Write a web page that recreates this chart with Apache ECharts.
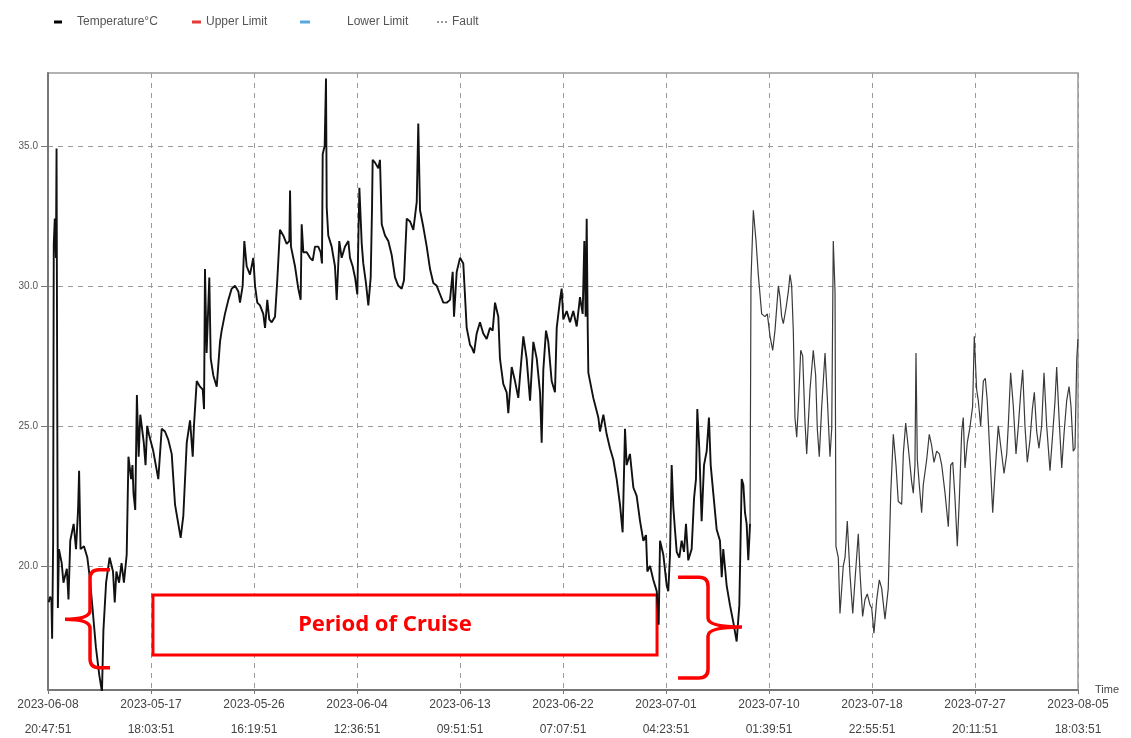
<!DOCTYPE html>
<html>
<head>
<meta charset="utf-8">
<title>Temperature</title>
<script src="https://cdn.jsdelivr.net/npm/echarts@6.0.0/dist/echarts.min.js"></script>
<style>
  html, body { margin: 0; padding: 0; background: #fff; }
  #main { width: 1131px; height: 738px; }
</style>
</head>
<body>
<div id="main"></div>
<script>
// x tick labels (10 equal steps of the logger's time axis)
var tickDates = ['2023-06-08', '2023-05-17', '2023-05-26', '2023-06-04', '2023-06-13', '2023-06-22',
  '2023-07-01', '2023-07-10', '2023-07-18', '2023-07-27', '2023-08-05'];
var tickTimes = ['20:47:51', '18:03:51', '16:19:51', '12:36:51', '09:51:51', '07:07:51',
  '04:23:51', '01:39:51', '22:55:51', '20:11:51', '18:03:51'];
var yTicks = [20, 25, 30, 35];

// [position on time axis (in tick steps), temperature °C]
var readings = [
  [0.007, 18.7], [0.02, 18.9], [0.033, 18.8], [0.04, 17.4], [0.05, 20.9], [0.056, 31.5], [0.066, 32.4],
  [0.077, 31.0], [0.083, 34.9], [0.09, 25.5], [0.096, 18.5], [0.106, 20.6], [0.133, 20.1], [0.15, 19.4],
  [0.183, 19.9], [0.199, 18.8], [0.216, 20.9], [0.249, 21.5], [0.272, 20.6], [0.292, 22.0], [0.302, 23.4],
  [0.316, 20.6], [0.349, 20.7], [0.382, 20.3], [0.405, 19.6], [0.432, 18.5], [0.465, 17.1], [0.498, 16.1],
  [0.524, 15.5], [0.538, 17.7], [0.564, 19.4], [0.598, 20.3], [0.631, 19.8], [0.648, 18.7], [0.664, 19.8],
  [0.69, 19.4], [0.714, 20.1], [0.737, 19.4], [0.764, 20.4], [0.781, 23.9], [0.807, 23.1], [0.82, 23.6],
  [0.83, 22.6], [0.847, 22.0], [0.863, 26.1], [0.88, 23.9], [0.896, 25.4], [0.93, 24.4], [0.947, 23.6],
  [0.963, 25.0], [0.98, 24.7],
  [0.99, 24.7], [1.022, 24.1], [1.071, 23.1], [1.104, 24.9], [1.136, 24.8], [1.168, 24.5], [1.201, 24.0],
  [1.233, 22.2], [1.265, 21.5], [1.288, 21.0], [1.314, 21.8], [1.347, 24.4], [1.379, 25.2], [1.405, 23.9],
  [1.417, 25.0], [1.444, 26.6], [1.476, 26.4], [1.502, 26.3], [1.515, 25.6], [1.524, 30.6], [1.54, 27.6],
  [1.566, 30.3], [1.58, 27.4], [1.605, 26.8], [1.638, 26.4], [1.67, 28.0], [1.686, 28.4], [1.718, 29.0],
  [1.751, 29.5], [1.783, 29.9], [1.816, 30.0], [1.848, 29.8], [1.864, 29.4], [1.89, 30.0], [1.906, 31.6],
  [1.929, 30.7], [1.961, 30.4], [1.993, 31.0], [2.01, 30.0], [2.032, 29.4], [2.058, 29.3], [2.09, 29.0],
  [2.107, 28.5], [2.129, 29.5], [2.148, 28.8], [2.172, 28.7], [2.204, 28.9], [2.226, 30.2], [2.252, 32.0],
  [2.284, 31.8], [2.317, 31.5], [2.343, 31.6], [2.35, 33.4], [2.359, 31.4], [2.398, 30.7], [2.43, 29.9],
  [2.453, 29.5], [2.463, 32.2], [2.479, 31.2], [2.512, 31.2], [2.544, 31.0], [2.57, 30.9], [2.592, 31.4],
  [2.624, 31.4], [2.647, 31.2], [2.66, 30.8], [2.667, 34.7], [2.686, 35.0], [2.699, 37.4], [2.706, 32.8],
  [2.721, 31.8], [2.754, 31.4], [2.786, 30.7], [2.803, 29.5], [2.828, 31.6], [2.851, 31.0], [2.883, 31.4],
  [2.916, 31.6], [2.932, 31.0], [2.958, 30.7], [2.981, 30.3], [3.003, 29.7], [3.023, 33.5], [3.046, 31.5],
  [3.061, 30.8], [3.087, 30.1], [3.11, 29.3], [3.133, 30.3], [3.146, 32.8], [3.152, 34.5], [3.175, 34.4],
  [3.207, 34.2], [3.223, 34.5], [3.24, 32.2], [3.272, 31.8], [3.304, 31.6], [3.337, 31.1], [3.369, 30.3],
  [3.401, 30.0], [3.434, 29.9], [3.456, 30.2], [3.483, 32.4], [3.515, 32.3], [3.547, 32.0], [3.58, 33.0],
  [3.595, 35.8], [3.612, 32.7], [3.644, 32.1], [3.677, 31.4], [3.709, 30.6], [3.741, 30.1], [3.774, 30.0],
  [3.806, 29.7], [3.838, 29.4], [3.871, 29.4], [3.903, 29.5], [3.929, 30.5], [3.942, 28.9], [3.968, 30.5],
  [4.0, 31.0], [4.032, 30.8], [4.065, 28.5], [4.097, 27.9],
  [4.114, 27.8], [4.136, 27.6], [4.162, 28.3], [4.194, 28.7], [4.226, 28.3], [4.259, 28.1], [4.291, 28.5],
  [4.317, 28.4], [4.34, 29.4], [4.372, 28.9], [4.388, 27.4], [4.42, 26.5], [4.453, 26.2], [4.469, 25.45],
  [4.502, 27.1], [4.534, 26.6], [4.566, 26.0], [4.583, 26.8], [4.615, 28.2], [4.647, 27.4], [4.68, 25.9],
  [4.712, 28.0], [4.745, 27.4], [4.777, 26.2], [4.793, 24.4], [4.809, 27.0], [4.835, 28.4], [4.857, 28.0],
  [4.89, 26.6], [4.922, 26.2], [4.939, 28.5], [4.971, 29.5], [4.987, 29.9], [5.003, 28.8], [5.036, 29.1],
  [5.068, 28.7], [5.1, 29.1], [5.133, 28.55], [5.165, 29.6], [5.191, 29.0], [5.207, 31.6], [5.22, 28.9],
  [5.23, 32.4], [5.24, 28.5], [5.246, 26.9],
  [5.262, 26.6], [5.294, 26.0], [5.343, 25.3], [5.359, 24.8], [5.392, 25.4], [5.424, 24.7], [5.456, 24.2],
  [5.488, 23.8], [5.521, 23.1], [5.553, 22.2], [5.579, 21.2], [5.602, 24.9], [5.618, 23.6], [5.65, 24.0],
  [5.683, 22.8], [5.715, 22.5], [5.748, 21.6], [5.78, 20.9], [5.806, 21.1], [5.819, 19.8], [5.845, 20.0],
  [5.877, 19.5], [5.91, 19.1], [5.929, 17.9], [5.942, 20.9], [5.974, 20.4], [6.007, 19.3], [6.022, 19.1],
  [6.039, 20.4], [6.055, 23.6], [6.071, 22.1], [6.087, 21.3], [6.104, 20.5], [6.129, 20.3], [6.152, 20.9],
  [6.175, 20.5], [6.194, 21.5], [6.216, 20.2], [6.249, 20.6], [6.272, 22.4], [6.291, 23.1], [6.304, 25.6],
  [6.323, 24.2], [6.346, 21.6], [6.369, 23.6], [6.395, 24.1], [6.417, 25.3], [6.434, 23.6], [6.459, 22.6],
  [6.492, 21.3], [6.524, 20.9], [6.541, 19.6], [6.556, 20.6], [6.589, 19.3], [6.621, 18.6], [6.653, 18.0],
  [6.686, 17.3], [6.712, 18.6],
  [6.735, 23.1], [6.751, 22.9], [6.767, 21.9], [6.783, 21.5], [6.799, 20.2], [6.816, 21.5], [6.825, 30.2],
  [6.848, 32.7], [6.874, 31.6], [6.896, 30.4], [6.929, 29.0], [6.961, 28.9], [6.984, 29.0], [7.01, 28.2],
  [7.036, 27.7], [7.058, 28.4], [7.091, 30.0], [7.107, 29.6], [7.123, 28.9], [7.139, 28.65], [7.165, 29.2],
  [7.188, 29.8], [7.204, 30.4], [7.22, 30.0], [7.236, 28.4], [7.252, 25.3], [7.269, 24.6], [7.285, 25.7],
  [7.308, 27.7], [7.327, 27.5], [7.35, 25.1], [7.366, 24.0], [7.398, 26.3], [7.43, 27.7], [7.453, 26.8],
  [7.469, 24.9], [7.488, 23.9], [7.512, 25.7], [7.544, 27.6], [7.566, 26.0], [7.592, 23.9], [7.609, 24.9],
  [7.624, 31.6], [7.641, 29.8], [7.65, 20.7], [7.673, 20.3], [7.689, 18.3], [7.721, 20.0], [7.738, 20.3],
  [7.76, 21.6], [7.786, 19.7], [7.813, 18.3], [7.835, 19.5], [7.867, 21.15], [7.883, 19.8], [7.909, 18.2],
  [7.932, 18.8], [7.954, 19.0], [7.981, 18.6], [7.997, 18.5], [8.019, 17.6], [8.046, 18.8], [8.071, 19.5],
  [8.094, 19.2], [8.126, 18.1], [8.158, 19.2], [8.182, 22.6], [8.207, 24.7], [8.233, 23.6], [8.255, 22.3],
  [8.288, 22.2], [8.304, 24.0], [8.327, 25.1], [8.353, 24.2], [8.385, 23.0], [8.401, 22.6],
  [8.417, 23.6], [8.427, 27.6], [8.44, 23.8], [8.459, 22.9], [8.482, 21.9], [8.498, 22.9], [8.531, 23.8],
  [8.556, 24.7], [8.579, 24.3], [8.602, 23.7], [8.628, 24.1], [8.654, 24.0], [8.677, 23.6], [8.709, 22.6],
  [8.741, 21.4], [8.764, 23.6], [8.784, 23.7], [8.806, 22.4], [8.828, 20.7], [8.848, 22.4], [8.871, 24.8],
  [8.886, 25.3], [8.903, 23.5], [8.925, 24.4], [8.951, 24.95], [8.977, 25.7], [8.993, 28.2], [9.016, 26.3],
  [9.032, 25.9], [9.055, 25.0], [9.081, 26.6], [9.1, 26.7], [9.119, 25.9], [9.146, 23.9], [9.172, 21.9],
  [9.194, 23.3], [9.226, 25.0], [9.249, 24.3], [9.282, 23.3], [9.308, 24.0], [9.323, 25.0], [9.346, 26.9],
  [9.372, 25.7], [9.398, 24.0], [9.421, 25.0], [9.444, 26.2], [9.463, 27.0], [9.485, 25.0], [9.508, 23.7],
  [9.534, 24.5], [9.557, 25.6], [9.576, 26.2], [9.599, 24.8], [9.621, 24.2], [9.647, 25.0], [9.67, 26.9],
  [9.696, 25.0], [9.728, 23.4], [9.754, 24.7], [9.777, 25.9], [9.793, 27.1], [9.816, 25.3], [9.842, 23.5],
  [9.864, 24.7], [9.89, 25.9], [9.913, 26.4], [9.932, 25.7], [9.954, 24.1], [9.971, 24.2], [9.988, 27.4],
  [10.0, 28.1]
];

// annotations (in axis units)
var cruiseBox = [1.019, 18.96, 5.913, 16.82];
var braces = [
  { end: 0.602, spine: 0.408, tip: 0.165, top: 19.86, mid: 18.1, bottom: 16.36 },
  { end: 6.117, spine: 6.408, tip: 6.738, top: 19.6, mid: 17.82, bottom: 16.0 }
];

// later part of the trace is drawn thinner, like the logger software does
var splitPos = 6.816;
var partA = [], partB = [];
for (var i = 0; i < readings.length; i++) {
  if (readings[i][0] <= splitPos) partA.push(readings[i]);
  if (readings[i][0] >= splitPos) partB.push(readings[i]);
}

var font = 'Liberation Sans';
var legendText = { color: '#555', fontSize: 12, fontFamily: font };

var chart = echarts.init(document.getElementById('main'));
chart.setOption({
  animation: false,
  backgroundColor: '#fff',
  legend: [
    { left: 49, top: 11, icon: 'rect', itemWidth: 8, itemHeight: 3, data: ['Temperature°C'],
      textStyle: Object.assign({ padding: [0, 0, 0, 10] }, legendText) },
    { left: 187, top: 11, icon: 'rect', itemWidth: 9, itemHeight: 3, data: ['Upper Limit'],
      textStyle: legendText },
    { left: 295, top: 11, icon: 'rect', itemWidth: 10, itemHeight: 3, data: ['Lower Limit'],
      textStyle: Object.assign({ padding: [0, 0, 0, 32] }, legendText) },
    { left: 432, top: 11, icon: 'path://M0,0h2v2h-2zM4,0h2v2h-2zM8,0h2v2h-2z', itemWidth: 10, itemHeight: 2,
      data: ['Fault'], textStyle: legendText }
  ],
  grid: {
    left: 48, right: 53, top: 73, bottom: 48, outerBoundsMode: 'none', containLabel: false,
    show: true, borderColor: '#999', borderWidth: 1.5
  },
  xAxis: {
    type: 'value', min: 0, max: 10, interval: 1,
    name: 'Time', nameLocation: 'end', nameGap: 17, nameMoveOverlap: false,
    nameTextStyle: { color: '#444', fontSize: 11, fontFamily: font, padding: [0, 0, 14, 0] },
    axisLine: { lineStyle: { color: '#777', width: 2 } },
    axisTick: { show: true, length: 4, lineStyle: { color: '#777' } },
    axisLabel: {
      color: '#444', fontSize: 12, fontFamily: font, lineHeight: 25, margin: 2,
      formatter: function (v) {
        var k = Math.round(v);
        return tickDates[k] + '\n' + tickTimes[k];
      }
    },
    splitLine: { show: true, lineStyle: { color: '#9a9a9a', type: [5, 5] } }
  },
  yAxis: {
    type: 'value', min: 15.57, max: 37.6,
    axisLine: { show: true, lineStyle: { color: '#777', width: 2 } },
    axisTick: { show: true, length: 7, customValues: yTicks, lineStyle: { color: '#777' } },
    axisLabel: {
      customValues: yTicks, color: '#555', fontSize: 10, fontFamily: font, margin: 10,
      formatter: function (v) { return v.toFixed(1); }
    },
    splitLine: { show: true, lineStyle: { color: '#9a9a9a', type: [5, 5] } }
  },
  series: [
    {
      name: 'Temperature°C', type: 'line', data: partA, color: '#000',
      showSymbol: false, symbol: 'none', lineStyle: { width: 1.9, color: '#111' },
      markArea: {
        silent: true,
        itemStyle: { color: '#fff', borderColor: '#ff0000', borderWidth: 3, opacity: 1 },
        label: {
          show: true, position: 'inside', offset: [-20, 0], formatter: '{b}',
          color: '#ff0000', fontSize: 22, fontWeight: 'bold', fontFamily: 'Noto Sans'
        },
        emphasis: { disabled: true },
        data: [[
          { name: 'Period of Cruise', coord: [cruiseBox[0], cruiseBox[1]] },
          { coord: [cruiseBox[2], cruiseBox[3]] }
        ]]
      }
    },
    {
      name: 'Temperature°C', type: 'line', data: partB, color: '#000',
      showSymbol: false, symbol: 'none', lineStyle: { width: 1.2, color: '#3a3a3a' }
    },
    { name: 'Upper Limit', type: 'line', data: [], color: '#e53935' },
    { name: 'Lower Limit', type: 'line', data: [], color: '#5aa7e0' },
    { name: 'Fault', type: 'line', data: [], color: '#999' },
    {
      name: 'braces', type: 'custom', silent: true, z: 10,
      data: braces.map(function (b) { return [b.tip, b.mid]; }),
      renderItem: function (params, api) {
        var b = braces[params.dataIndex];
        var ex = api.coord([b.end, b.mid])[0];
        var sx = api.coord([b.spine, b.mid])[0];
        var tx = api.coord([b.tip, b.mid])[0];
        var yt = api.coord([b.end, b.top])[1];
        var ym = api.coord([b.end, b.mid])[1];
        var yb = api.coord([b.end, b.bottom])[1];
        var d = ex > sx ? 1 : -1;
        var r = 9;
        var p = 'M' + ex + ',' + yt +
          'L' + (sx + d * r) + ',' + yt +
          'Q' + sx + ',' + yt + ',' + sx + ',' + (yt + r) +
          'L' + sx + ',' + (ym - r) +
          'Q' + sx + ',' + ym + ',' + tx + ',' + ym +
          'Q' + sx + ',' + ym + ',' + sx + ',' + (ym + r) +
          'L' + sx + ',' + (yb - r) +
          'Q' + sx + ',' + yb + ',' + (sx + d * r) + ',' + yb +
          'L' + ex + ',' + yb;
        return {
          type: 'path',
          shape: { pathData: p },
          style: { stroke: '#ff0000', lineWidth: 3.5, fill: 'none' }
        };
      }
    }
  ]
});

window.onresize = function () {
  chart.resize();
};
</script>
</body>
</html>
